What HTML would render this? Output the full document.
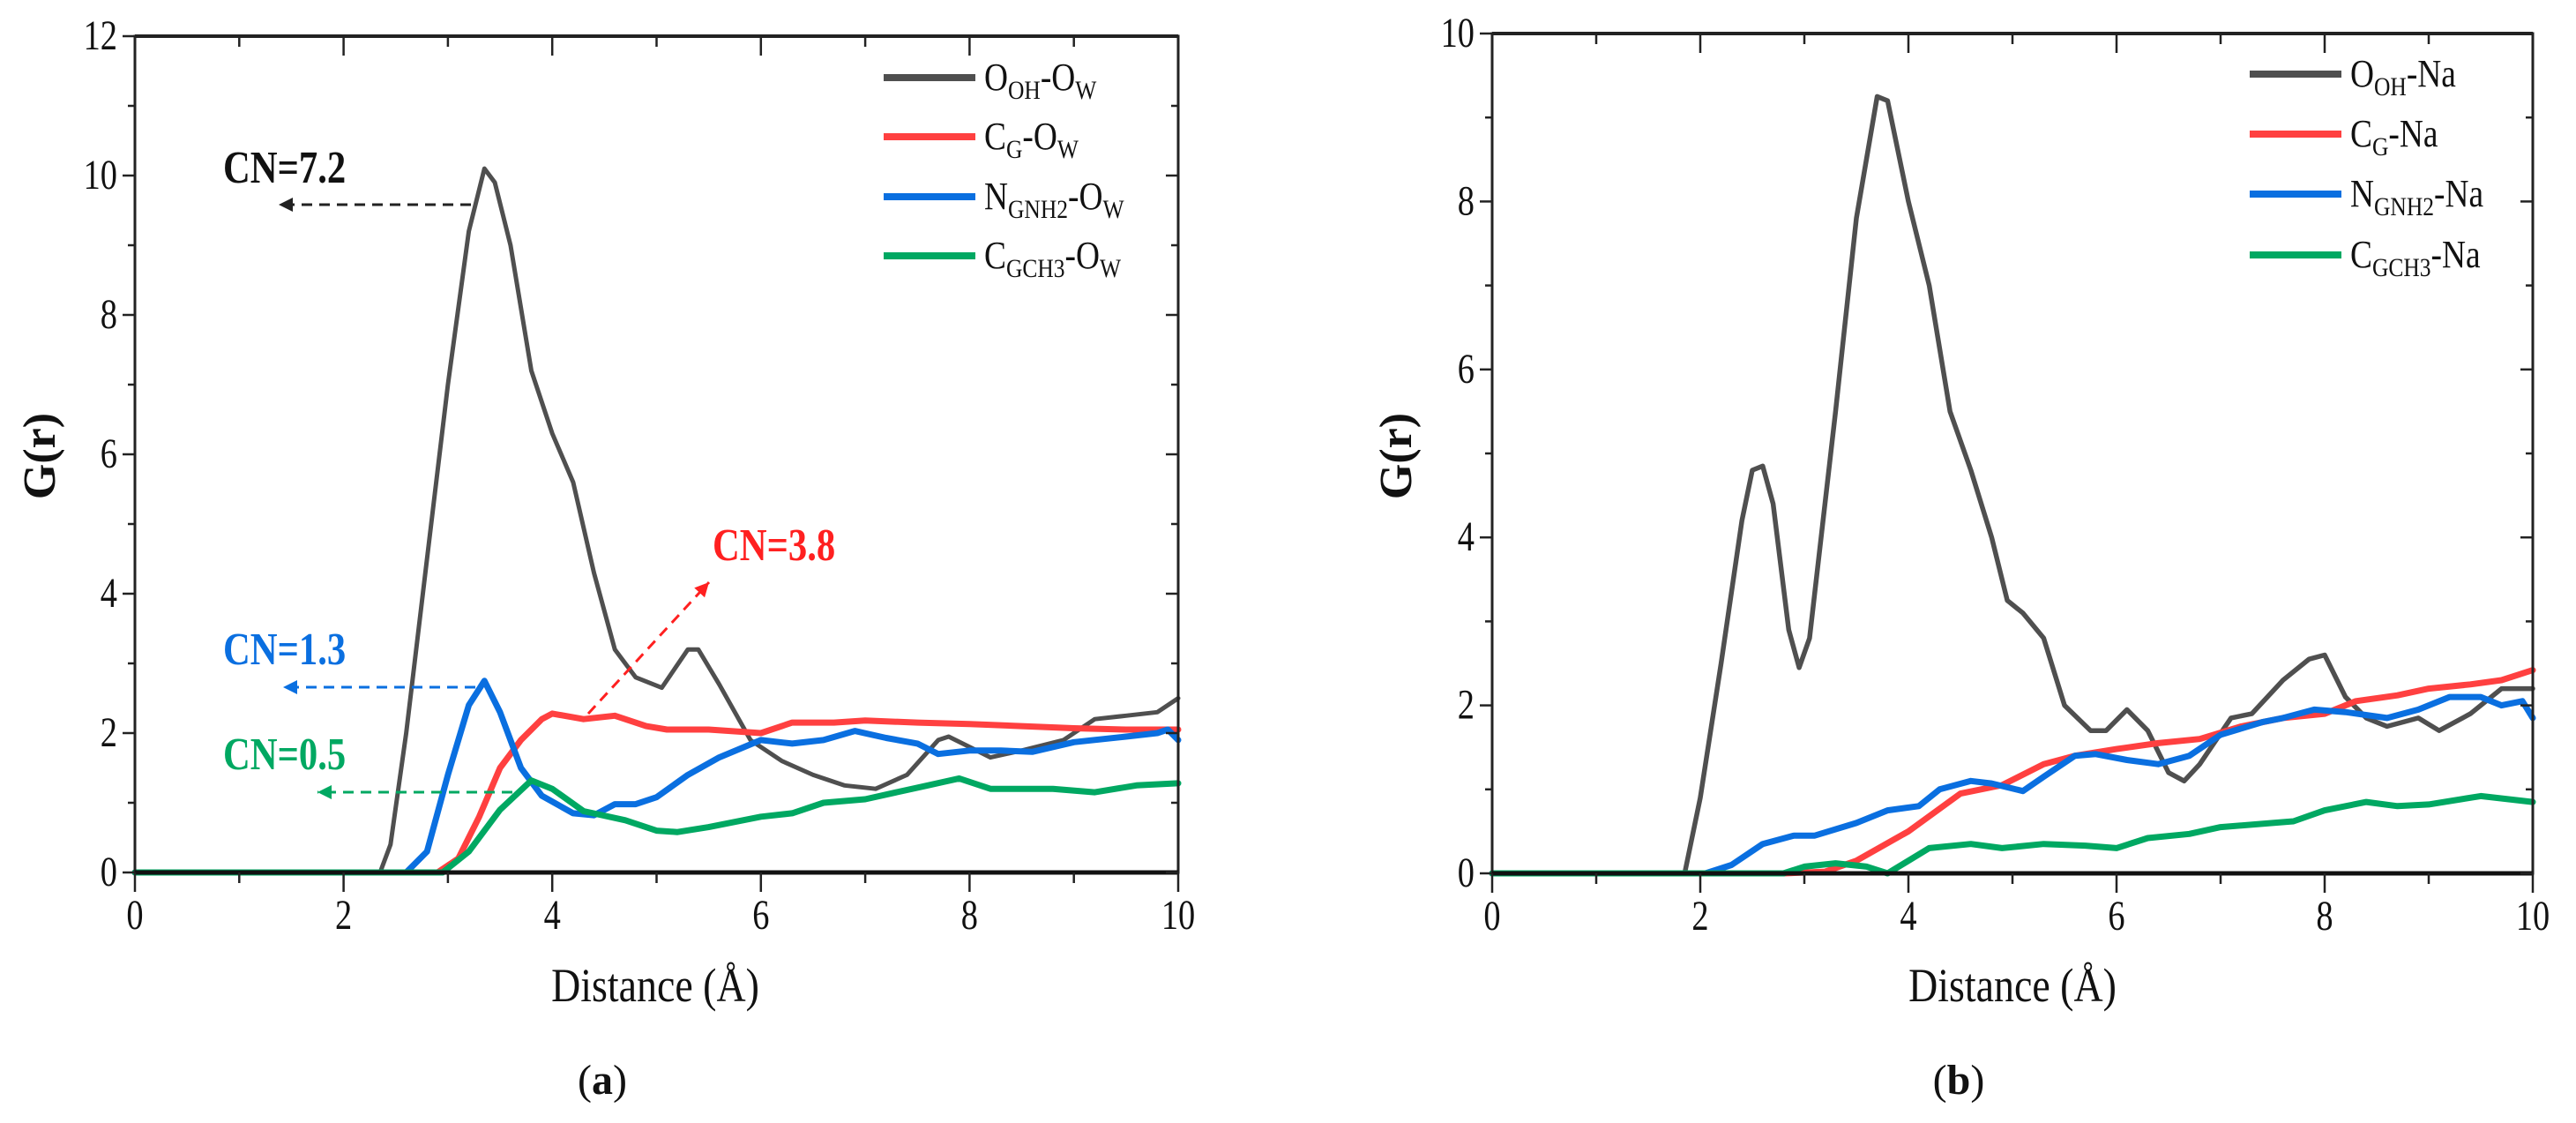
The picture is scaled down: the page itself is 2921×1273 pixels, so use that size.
<!DOCTYPE html>
<html><head><meta charset="utf-8"><style>
html,body{margin:0;padding:0;background:#fff;}
svg{display:block;font-family:"Liberation Serif",serif;}
</style></head><body>
<svg id="fig" width="2921" height="1273" viewBox="0 0 2921 1273" xmlns="http://www.w3.org/2000/svg"></svg>
<script>
// ---- Panel (a) data ----
const aBlackX=[0,2.35,2.45,2.6,2.8,3.0,3.2,3.35,3.45,3.6,3.8,4.0,4.2,4.4,4.6,4.8,5.05,5.3,5.4,5.6,5.9,6.2,6.5,6.8,7.1,7.4,7.7,7.8,8.0,8.2,8.5,8.9,9.2,9.5,9.8,10];
const aBlackY=[0,0,0.4,2,4.5,7,9.2,10.1,9.9,9,7.2,6.3,5.6,4.3,3.2,2.8,2.65,3.2,3.2,2.7,1.9,1.6,1.4,1.25,1.2,1.4,1.9,1.95,1.8,1.65,1.75,1.9,2.2,2.25,2.3,2.5];
const aRedX=[0,2.9,3.1,3.3,3.5,3.7,3.9,4.0,4.3,4.6,4.9,5.1,5.5,6.0,6.3,6.7,7.0,7.5,8,8.5,9,9.5,10];
const aRedY=[0,0,0.2,0.8,1.5,1.9,2.2,2.28,2.2,2.25,2.1,2.05,2.05,2.0,2.15,2.15,2.18,2.15,2.13,2.1,2.07,2.05,2.05];
const aBlueX=[0,2.6,2.8,3.0,3.2,3.35,3.5,3.7,3.9,4.2,4.4,4.6,4.8,5.0,5.3,5.6,6.0,6.3,6.6,6.9,7.2,7.5,7.7,8.0,8.3,8.6,9.0,9.5,9.8,9.9,10];
const aBlueY=[0,0,0.3,1.4,2.4,2.75,2.3,1.5,1.1,0.85,0.82,0.98,0.98,1.08,1.4,1.65,1.9,1.85,1.9,2.03,1.93,1.85,1.7,1.75,1.75,1.73,1.87,1.95,2.0,2.05,1.9];
const aGreenX=[0,2.95,3.2,3.5,3.8,4.0,4.3,4.7,5.0,5.2,5.5,6.0,6.3,6.6,7.0,7.3,7.6,7.9,8.2,8.5,8.8,9.2,9.6,10];
const aGreenY=[0,0,0.3,0.9,1.32,1.2,0.88,0.75,0.6,0.58,0.65,0.8,0.85,1.0,1.05,1.15,1.25,1.35,1.2,1.2,1.2,1.15,1.25,1.28];
// ---- Panel (b) data ----
const bBlackX=[0,1.85,2.0,2.2,2.4,2.5,2.6,2.7,2.85,2.95,3.05,3.3,3.5,3.7,3.8,4.0,4.2,4.4,4.6,4.8,4.95,5.1,5.3,5.5,5.75,5.9,6.1,6.3,6.5,6.65,6.8,7.1,7.3,7.6,7.85,8.0,8.2,8.4,8.6,8.9,9.1,9.4,9.7,10];
const bBlackY=[0,0,0.9,2.5,4.2,4.8,4.85,4.4,2.9,2.45,2.8,5.5,7.8,9.25,9.2,8.0,7.0,5.5,4.8,4.0,3.25,3.1,2.8,2.0,1.7,1.7,1.95,1.7,1.2,1.1,1.3,1.85,1.9,2.3,2.55,2.6,2.1,1.85,1.75,1.85,1.7,1.9,2.2,2.2];
const bRedX=[0,2.8,3.2,3.5,4.0,4.5,4.9,5.3,5.6,6.0,6.4,6.8,7.2,7.6,8.0,8.3,8.7,9.0,9.4,9.7,10];
const bRedY=[0,0,0.02,0.15,0.5,0.95,1.05,1.3,1.4,1.48,1.55,1.6,1.75,1.85,1.9,2.05,2.12,2.2,2.25,2.3,2.42];
const bBlueX=[0,2.05,2.3,2.6,2.9,3.1,3.5,3.8,4.1,4.3,4.6,4.8,5.1,5.3,5.6,5.8,6.1,6.4,6.7,7.0,7.4,7.6,7.9,8.2,8.6,8.9,9.2,9.5,9.7,9.9,10];
const bBlueY=[0,0,0.1,0.35,0.45,0.45,0.6,0.75,0.8,1.0,1.1,1.07,0.98,1.15,1.4,1.42,1.35,1.3,1.4,1.65,1.8,1.85,1.95,1.92,1.85,1.95,2.1,2.1,2.0,2.05,1.85];
const bGreenX=[0,2.8,3.0,3.3,3.6,3.8,4.2,4.6,4.9,5.3,5.7,6.0,6.3,6.7,7.0,7.5,7.7,8.0,8.4,8.7,9.0,9.5,10];
const bGreenY=[0,0,0.08,0.12,0.08,0.0,0.3,0.35,0.3,0.35,0.33,0.3,0.42,0.47,0.55,0.6,0.62,0.75,0.85,0.8,0.82,0.92,0.85];
const aYTicks=[0,2,4,6,8,10,12];
const bYTicks=[0,2,4,6,8,10];
const xTicks=[0,2,4,6,8,10];

const NS="http://www.w3.org/2000/svg";
const svg=document.getElementById('fig');
function mk(tag,attrs,parent){const e=document.createElementNS(NS,tag);for(const k in attrs)e.setAttribute(k,attrs[k]);(parent||svg).appendChild(e);return e;}
function cond(x,y,s){return `translate(${x},${y}) scale(${s},1)`;}

function panel(cfg){
  const g=mk('g',{});
  
  
  const sx=v=>cfg.x0+(cfg.x1-cfg.x0)*v/10;
  const sy=v=>cfg.y0-(cfg.y0-cfg.yTop)*v/cfg.ymax;
  cfg.series.forEach(s=>{
    const pts=s.x.map((xv,i)=>sx(xv).toFixed(1)+','+sy(s.y[i]).toFixed(1)).join(' ');
    const p=mk('polyline',{points:pts,fill:'none',stroke:s.color,'stroke-width':s.w,'stroke-linejoin':'round','stroke-linecap':'round'},g);
    
    
  });
  const fr=mk('rect',{x:cfg.x0,y:cfg.yTop,width:cfg.x1-cfg.x0,height:cfg.y0-cfg.yTop,fill:'none',stroke:'#222','stroke-width':3},g);
  
  
  mk('line',{x1:cfg.x0,y1:cfg.y0,x2:cfg.x1,y2:cfg.y0,stroke:'#111','stroke-width':5},g);
  mk('line',{x1:cfg.x0,y1:cfg.yTop,x2:cfg.x1,y2:cfg.yTop,stroke:'#222','stroke-width':4},g);
  for(let v=0;v<=10;v++){
    const X=sx(v),len=(v%2===0)?22:12;
    mk('line',{x1:X,y1:cfg.y0,x2:X,y2:cfg.y0+len,stroke:'#222','stroke-width':2.5},g);
    mk('line',{x1:X,y1:cfg.yTop,x2:X,y2:cfg.yTop+len,stroke:'#222','stroke-width':2.5},g);
  }
  xTicks.forEach(v=>{
    const t=mk('text',{x:0,y:0,'font-size':48,'text-anchor':'middle',fill:'#111',transform:cond(sx(v),cfg.y0+64,0.8)},g);
    t.textContent=v;
    
    
  });
  for(let v=0;v<=cfg.ymax;v+=1){
    const Y=sy(v),len=(v%2===0)?14:8;
    mk('line',{x1:cfg.x0,y1:Y,x2:cfg.x0-len,y2:Y,stroke:'#222','stroke-width':2.5},g);
    mk('line',{x1:cfg.x1,y1:Y,x2:cfg.x1-len,y2:Y,stroke:'#222','stroke-width':2.5},g);
  }
  cfg.yTicks.forEach(v=>{
    const t=mk('text',{x:0,y:0,'font-size':48,'text-anchor':'end',fill:'#111',transform:cond(cfg.x0-20,sy(v)+15,0.8)},g);
    t.textContent=v;
    
    
  });
  const xt=mk('text',{x:0,y:0,'font-size':54,'text-anchor':'middle',fill:'#111',transform:cond(cfg.xTitleX,1135,0.85)},g);
  xt.textContent='Distance (Å)';
  
  
  const yt=mk('text',{x:0,y:0,'font-size':52,'font-weight':'bold','text-anchor':'middle',fill:'#111',transform:`translate(${cfg.yTitleX},517) rotate(-90)`},g);
  yt.textContent='G(r)';
  
  
  const cap=mk('text',{x:cfg.capX,y:1240,'font-size':48,'text-anchor':'middle',fill:'#111'},g);
  cap.innerHTML='(<tspan font-weight="bold">'+cfg.cap+'</tspan>)';
  
  
  cfg.series.forEach((s,i)=>{
    const Y=cfg.legY[i];
    const le=mk('g',{},g);
    
    
    mk('line',{x1:cfg.legX,y1:Y,x2:cfg.legX+104,y2:Y,stroke:s.color,'stroke-width':8},le);
    const t=mk('text',{x:0,y:0,'font-size':44,fill:'#111',transform:cond(cfg.legX+114,Y+14,0.85)},le);
    t.innerHTML=s.label;
  });
  return {g,sx,sy};
}

const sub=t=>'<tspan font-size="30" dy="10">'+t+'</tspan>';
panel({name:'panel-a',x0:153,x1:1336,y0:989,yTop:41,ymax:12,yTicks:aYTicks,xTitleX:743,yTitleX:62,capX:683,cap:'a',
  legX:1002,legY:[88,155,223,290],
  series:[
   {id:'series-oh-ow',x:aBlackX,y:aBlackY,color:'#4f4f4f',w:5,label:'O'+sub('OH')+'<tspan dy="-10">-O</tspan>'+sub('W')},
   {id:'series-cg-ow',x:aRedX,y:aRedY,color:'#ff4040',w:7,label:'C'+sub('G')+'<tspan dy="-10">-O</tspan>'+sub('W')},
   {id:'series-ngnh2-ow',x:aBlueX,y:aBlueY,color:'#0a6fe0',w:7,label:'N'+sub('GNH2')+'<tspan dy="-10">-O</tspan>'+sub('W')},
   {id:'series-cgch3-ow',x:aGreenX,y:aGreenY,color:'#00a862',w:7,label:'C'+sub('GCH3')+'<tspan dy="-10">-O</tspan>'+sub('W')}
  ]});

panel({name:'panel-b',x0:1692,x1:2872,y0:990,yTop:38,ymax:10,yTicks:bYTicks,xTitleX:2282,yTitleX:1600,capX:2221,cap:'b',
  legX:2551,legY:[84,152,220,289],
  series:[
   {id:'series-oh-na',x:bBlackX,y:bBlackY,color:'#4f4f4f',w:5.5,label:'O'+sub('OH')+'<tspan dy="-10">-Na</tspan>'},
   {id:'series-cg-na',x:bRedX,y:bRedY,color:'#ff4040',w:7,label:'C'+sub('G')+'<tspan dy="-10">-Na</tspan>'},
   {id:'series-ngnh2-na',x:bBlueX,y:bBlueY,color:'#0a6fe0',w:7,label:'N'+sub('GNH2')+'<tspan dy="-10">-Na</tspan>'},
   {id:'series-cgch3-na',x:bGreenX,y:bGreenY,color:'#00a862',w:7,label:'C'+sub('GCH3')+'<tspan dy="-10">-Na</tspan>'}
  ]});

function arrow(x1,y1,x2,y2,color,name){
  const g=mk('g',{});
  
  
  mk('line',{x1,y1,x2,y2,stroke:color,'stroke-width':3,'stroke-dasharray':'12 8'},g);
  const ang=Math.atan2(y2-y1,x2-x1),L=16,W=8;
  const bx=x2-L*Math.cos(ang),by=y2-L*Math.sin(ang);
  const px=-Math.sin(ang)*W,py=Math.cos(ang)*W;
  mk('polygon',{points:`${x2},${y2} ${bx+px},${by+py} ${bx-px},${by-py}`,fill:color},g);
}
function label(x,y,txt,color,name){
  const t=mk('text',{x:0,y:0,'font-size':52,'font-weight':'bold',fill:color,transform:cond(x,y,0.82)});
  t.textContent=txt;
  
  
}
label(253,207,'CN=7.2','#111','cn-oh-label');
arrow(534,232,316,232,'#222','cn-oh-arrow');
label(808,635,'CN=3.8','#ff2020','cn-cg-label');
arrow(667,809,804,660,'#ff2020','cn-cg-arrow');
label(253,753,'CN=1.3','#0a6fe0','cn-ngnh2-label');
arrow(539,779,321,779,'#0a6fe0','cn-ngnh2-arrow');
label(253,872,'CN=0.5','#00a862','cn-cgch3-label');
arrow(581,898,360,898,'#00a862','cn-cgch3-arrow');
</script>
</body></html>
